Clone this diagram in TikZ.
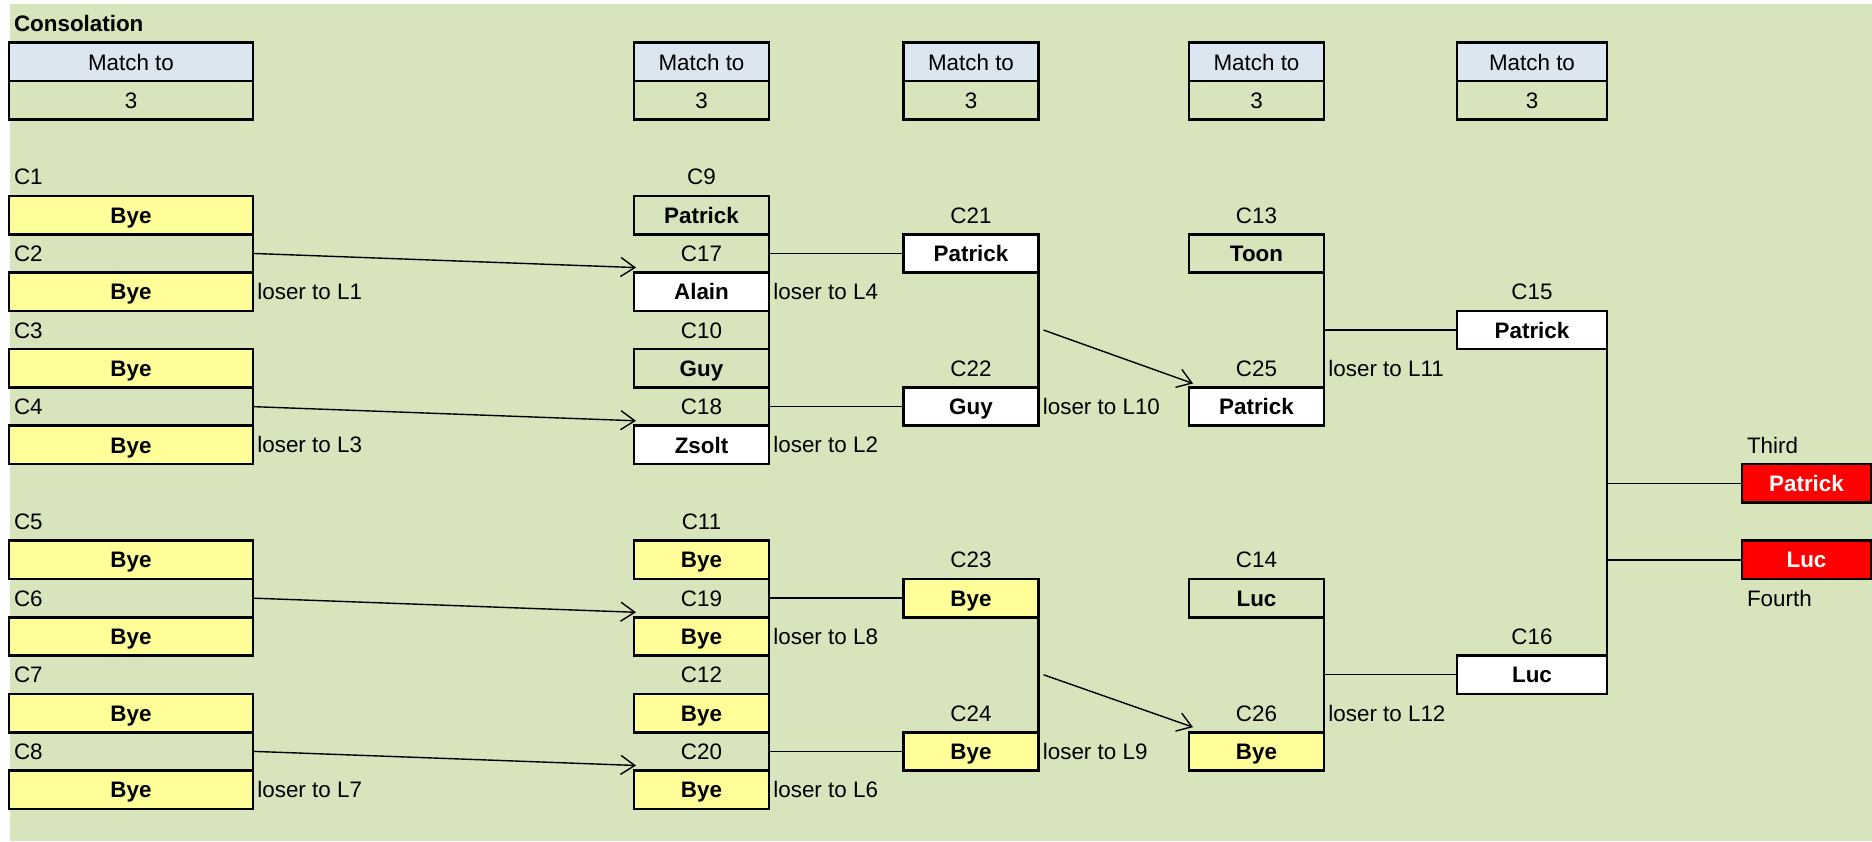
\documentclass[tikz,border=0pt]{standalone}
\usepackage{fontspec}
\setmainfont{Liberation Sans}
\definecolor{sheetgreen}{RGB}{216,228,188}
\definecolor{byeyellow}{RGB}{255,255,153}
\definecolor{headblue}{RGB}{220,230,241}
\definecolor{placered}{RGB}{255,0,0}
\usetikzlibrary{arrows.meta,calc}
\newcommand{\cellfont}{\fontsize{11.2}{13.4}\selectfont}

\begin{document}
\begin{tikzpicture}[
  x=0.5pt, y=-19.15pt,
  cell/.style={minimum height=19.15pt, inner sep=0pt, outer sep=0pt,
    text height=8.1pt, text depth=0pt, font=\cellfont},
  frame/.style={cell, draw, line width=1.3pt},
  box/.style={frame, font=\cellfont\bfseries},
  first/.style={minimum width=122pt},
  mid/.style={minimum width=67.5pt},
  semi/.style={minimum width=75pt},
  place/.style={minimum width=64.5pt},
  bye/.style={box, fill=byeyellow},
  seed/.style={box, fill=white},
  win/.style={box, place, fill=placered, text=white},
  tagl/.style={cell, align=left, inner xsep=2.5pt},
  note/.style={anchor=west, inner sep=2pt, font=\cellfont},
  rim/.style={line width=1.3pt},
  ln/.style={line width=0.7pt},
  arr/.style={ln, -{Straight Barb[length=7pt,width=9.5pt]}}
]
  \useasboundingbox (0,-5.1175) rectangle (1872,16.841);
  \fill[sheetgreen] (10,-5) rectangle (1872,16.841);

  % Title and match-to headers
  \node[cell, anchor=west, inner xsep=2pt, font=\cellfont\bfseries] (title) at (10,-4.5) {Consolation};
  \node[frame, first, fill=headblue] (h1) at (131,-3.5) {Match to};
  \node[frame, first] (g1) at (131,-2.5) {3};
  \node[frame, mid, fill=headblue] (h2) at (701.5,-3.5) {Match to};
  \node[frame, mid] (g2) at (701.5,-2.5) {3};
  \node[frame, mid, fill=headblue] (h3) at (971,-3.5) {Match to};
  \node[frame, mid] (g3) at (971,-2.5) {3};
  \node[frame, mid, fill=headblue] (h4) at (1256.5,-3.5) {Match to};
  \node[frame, mid] (g4) at (1256.5,-2.5) {3};
  \node[frame, semi, fill=headblue] (h5) at (1532,-3.5) {Match to};
  \node[frame, semi] (g5) at (1532,-2.5) {3};

  % First round
  \node[tagl, text width=117pt] (lc1) at (131,-0.5) {C1};
  \node[bye, first] (c1) at (131,0.5) {Bye};
  \node[tagl, text width=117pt] (lc2) at (131,1.5) {C2};
  \node[bye, first] (c2) at (131,2.5) {Bye};
  \node[tagl, text width=117pt] (lc3) at (131,3.5) {C3};
  \node[bye, first] (c3) at (131,4.5) {Bye};
  \node[tagl, text width=117pt] (lc4) at (131,5.5) {C4};
  \node[bye, first] (c4) at (131,6.5) {Bye};
  \node[tagl, text width=117pt] (lc5) at (131,8.5) {C5};
  \node[bye, first] (c5) at (131,9.5) {Bye};
  \node[tagl, text width=117pt] (lc6) at (131,10.5) {C6};
  \node[bye, first] (c6) at (131,11.5) {Bye};
  \node[tagl, text width=117pt] (lc7) at (131,12.5) {C7};
  \node[bye, first] (c7) at (131,13.5) {Bye};
  \node[tagl, text width=117pt] (lc8) at (131,14.5) {C8};
  \node[bye, first] (c8) at (131,15.5) {Bye};
  \node[note] at (c2.east) {loser to L1};
  \node[note] at (c4.east) {loser to L3};
  \node[note] at (c8.east) {loser to L7};

  % Second round
  \node[cell, mid] (lc9) at (701.5,-0.5) {C9};
  \node[box, mid] (c9) at (701.5,0.5) {Patrick};
  \node[cell, mid] (lc17) at (701.5,1.5) {C17};
  \node[seed, mid] (c17) at (701.5,2.5) {Alain};
  \node[cell, mid] (lc10) at (701.5,3.5) {C10};
  \node[box, mid] (c10) at (701.5,4.5) {Guy};
  \node[cell, mid] (lc18) at (701.5,5.5) {C18};
  \node[seed, mid] (c18) at (701.5,6.5) {Zsolt};
  \node[cell, mid] (lc11) at (701.5,8.5) {C11};
  \node[bye, mid] (c11) at (701.5,9.5) {Bye};
  \node[cell, mid] (lc19) at (701.5,10.5) {C19};
  \node[bye, mid] (c19) at (701.5,11.5) {Bye};
  \node[cell, mid] (lc12) at (701.5,12.5) {C12};
  \node[bye, mid] (c12) at (701.5,13.5) {Bye};
  \node[cell, mid] (lc20) at (701.5,14.5) {C20};
  \node[bye, mid] (c20) at (701.5,15.5) {Bye};
  \node[note] at (c17.east) {loser to L4};
  \node[note] at (c18.east) {loser to L2};
  \node[note] at (c19.east) {loser to L8};
  \node[note] at (c20.east) {loser to L6};

  % Third round
  \node[cell, mid] (lc21) at (971,0.5) {C21};
  \node[seed, mid] (c21) at (971,1.5) {Patrick};
  \node[cell, mid] (lc22) at (971,4.5) {C22};
  \node[seed, mid] (c22) at (971,5.5) {Guy};
  \node[cell, mid] (lc23) at (971,9.5) {C23};
  \node[bye, mid] (c23) at (971,10.5) {Bye};
  \node[cell, mid] (lc24) at (971,13.5) {C24};
  \node[bye, mid] (c24) at (971,14.5) {Bye};
  \node[note] at (c22.east) {loser to L10};
  \node[note] at (c24.east) {loser to L9};

  % Fourth round
  \node[cell, mid] (lc13) at (1256.5,0.5) {C13};
  \node[box, mid] (c13) at (1256.5,1.5) {Toon};
  \node[cell, mid] (lc25) at (1256.5,4.5) {C25};
  \node[seed, mid] (c25) at (1256.5,5.5) {Patrick};
  \node[cell, mid] (lc14) at (1256.5,9.5) {C14};
  \node[box, mid] (c14) at (1256.5,10.5) {Luc};
  \node[cell, mid] (lc26) at (1256.5,13.5) {C26};
  \node[bye, mid] (c26) at (1256.5,14.5) {Bye};
  \node[note] at (lc25.east) {loser to L11};
  \node[note] at (lc26.east) {loser to L12};

  % Fifth round and places
  \node[cell, semi] (lc15) at (1532,2.5) {C15};
  \node[seed, semi] (c15) at (1532,3.5) {Patrick};
  \node[cell, semi] (lc16) at (1532,11.5) {C16};
  \node[seed, semi] (c16) at (1532,12.5) {Luc};
  \node[tagl, text width=59.5pt] (lthird) at (1806.5,6.5) {Third};
  \node[win] (third) at (1806.5,7.5) {Patrick};
  \node[win] (fourth) at (1806.5,9.5) {Luc};
  \node[tagl, text width=59.5pt] (lfourth) at (1806.5,10.5) {Fourth};

  % Bracket rims
  \draw[rim] (c1.north east) -- (c2.south east);
  \draw[rim] (c3.north east) -- (c4.south east);
  \draw[rim] (c5.north east) -- (c6.south east);
  \draw[rim] (c7.north east) -- (c8.south east);
  \draw[rim] (c9.north east) -- (c18.south east);
  \draw[rim] (c11.north east) -- (c20.south east);
  \draw[rim] (c21.south east) -- (c22.north east);
  \draw[rim] (c23.south east) -- (c24.north east);
  \draw[rim] (c13.south east) -- (c25.north east);
  \draw[rim] (c14.south east) -- (c26.north east);
  \draw[rim] (c15.south east) -- (c16.north east);

  % Losers dropping in
  \draw[arr] (lc2.east) -- ([shift={(1pt,2.5pt)}]c17.north west);
  \draw[arr] (lc4.east) -- ([shift={(1pt,2.5pt)}]c18.north west);
  \draw[arr] (lc6.east) -- ([shift={(1pt,2.5pt)}]c19.north west);
  \draw[arr] (lc8.east) -- ([shift={(1pt,2.5pt)}]c20.north west);
  \coordinate (m21) at ($(c21.south east)!.5!(c22.north east)$);
  \coordinate (m23) at ($(c23.south east)!.5!(c24.north east)$);
  \draw[arr] ([xshift=2.5pt]m21) -- ([shift={(2pt,2pt)}]c25.north west);
  \draw[arr] ([xshift=2.5pt]m23) -- ([shift={(2pt,2.5pt)}]c26.north west);

  % Winners moving on
  \draw[ln] (lc17.east) -- (c21.west);
  \draw[ln] (lc18.east) -- (c22.west);
  \draw[ln] (lc19.east) -- (c23.west);
  \draw[ln] (lc20.east) -- (c24.west);
  \draw[ln] ($(c13.south east)!.5!(c25.north east)$) -- (c15.west);
  \draw[ln] ($(c14.south east)!.5!(c26.north east)$) -- (c16.west);
  \draw[ln] (c15.east |- third.west) -- (third.west);
  \draw[ln] (c15.east |- fourth.west) -- (fourth.west);
\end{tikzpicture}
\end{document}
